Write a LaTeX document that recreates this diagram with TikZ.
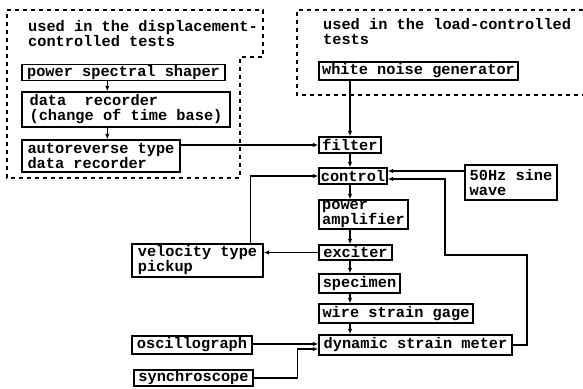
\documentclass[tikz,border=0pt]{standalone}
\usepackage{fontspec}
\setmainfont{Liberation Mono}
\usetikzlibrary{arrows.meta,calc}
\begin{document}
\begin{tikzpicture}[x=1pt,y=-1pt,
  box/.style={draw, line width=1.4pt, inner sep=1pt, align=left, font=\fontsize{15.3}{15}\selectfont\bfseries},
  lbl/.style={inner sep=0pt, align=left, font=\fontsize{15.3}{15}\selectfont\bfseries},
  conn/.style={line width=1.2pt},
  arr/.style={conn, -{Latex[length=5.5pt,width=4.5pt]}},
  region/.style={line width=1.1pt, dash pattern=on 4pt off 4pt}]
\useasboundingbox (0,0) rectangle (583,388);
% dashed regions
\draw[region] (7,10) -- (263,10) -- (263,57) -- (240,57) -- (240,178) -- (7,178) -- cycle;
\draw[region] (583,10) -- (297,10) -- (297,95) -- (583,95);
\node[lbl, anchor=north west] (lblL) at (28,20) {used in the displacement-\\controlled tests};
\node[lbl, anchor=north west] (lblR) at (323,18) {used in the load-controlled\\tests};
% boxes
\node[box, minimum width=203pt, minimum height=15pt] (pss) at (123.5,72.5) {power spectral shaper};
\node[box, minimum width=208pt, minimum height=35pt] (dr) at (126,109.5) {data\ \ recorder\\(change of time base)};
\node[box, minimum width=158pt, minimum height=32pt] (ar) at (101,156) {autoreverse type\\data recorder};
\node[box, minimum width=199pt, minimum height=18pt] (wng) at (418.5,71) {white noise generator};
\node[box, minimum width=62pt, minimum height=16pt] (filter) at (350,145) {filter};
\node[box, minimum width=68pt, minimum height=16pt] (control) at (353,176) {control};
\node[box, minimum width=92pt, minimum height=35pt] (fifty) at (511,182.5) {50Hz sine\\wave};
\node[box, minimum width=89pt, minimum height=29pt, font=\fontsize{15.3}{13.5}\selectfont\bfseries] (pa) at (363.5,214.5) {power\\amplifier};
\node[box, minimum width=73pt, minimum height=15pt] (exciter) at (355.5,252.5) {exciter};
\node[box, minimum width=131pt, minimum height=33pt] (vel) at (197.5,260.5) {velocity type\\pickup};
\node[box, minimum width=81pt, minimum height=19pt] (spec) at (359.5,283.5) {specimen};
\node[box, minimum width=154pt, minimum height=19pt] (wsg) at (396,313.5) {wire strain gage};
\node[box, minimum width=193pt, minimum height=20pt] (dsm) at (415.5,345) {dynamic strain meter};
\node[box, minimum width=120pt, minimum height=18pt] (osc) at (192,345) {oscillograph};
\node[box, minimum width=119pt, minimum height=16pt] (syn) at (193.5,378) {synchroscope};
% connectors
\draw[arr] ([xshift=86pt]pss.south west) -- ([xshift=86pt]dr.north west);
\draw[arr] ([xshift=86pt]dr.south west) -- ([xshift=86pt]ar.north west);
\draw[arr] (filter.west -| ar.east) -- (filter.west);
\draw[arr] (wng.south -| filter.north) -- (filter.north);
\draw[arr] (filter.south) -- (control.north -| filter.south);
\draw[arr] (control.south -| filter.south) -- (pa.north -| filter.south);
\draw[arr] (pa.south -| filter.south) -- (exciter.north -| filter.south);
\draw[arr] (exciter.south -| filter.south) -- (spec.north -| filter.south);
\draw[arr] (spec.south -| filter.south) -- (wsg.north -| filter.south);
\draw[arr] (wsg.south -| filter.south) -- (dsm.north -| filter.south);
\draw[arr] (exciter.west) -- (exciter.west -| vel.east);
\draw[arr] ([xshift=-13pt]vel.north east) |- (control.west);
\draw[arr] ([yshift=5pt]control.east -| fifty.west) -- ([yshift=5pt]control.east);
\coordinate (fb1) at (527,255);
\coordinate (fb2) at (445,255);
\draw[arr] (dsm.east) -| (fb1) -- (fb2) |- ([yshift=-3pt]control.east);
\draw[arr] ([yshift=1pt]osc.east) -- ([yshift=1pt]dsm.west);
\draw[arr] (syn.east) -| ([xshift=-21pt,yshift=-4pt]dsm.west) -- ([yshift=-4pt]dsm.west);
\end{tikzpicture}
\end{document}
